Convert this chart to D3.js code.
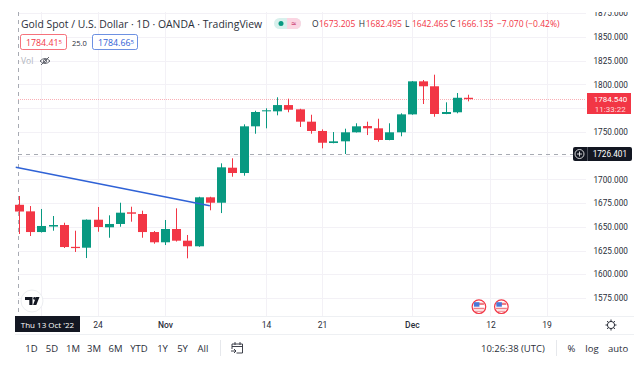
<!DOCTYPE html>
<html>
<head>
<meta charset="utf-8">
<script src="https://cdn.jsdelivr.net/npm/d3@7"></script>
<style>
  html, body { margin: 0; padding: 0; background: #fff; }
  text { font-family: "Open Sans", Roboto, sans-serif; }
  .num text, text.num { font-family: Roboto, sans-serif; }
</style>
</head>
<body>
<div id="chart"></div>
<script type="text/javascript">
  // 1D candles, 13 Oct 2022 (index 0) to 8 Dec 2022
  var opens = [1673.205,1666.3,1644.5,1650.3,1651.9,1628.9,1628,1657.5,1649.5,1653,1665.3,1663.5,1644.5,1633.7,1647.7,1635.4,1629.5,1681.1,1675.4,1712.3,1706.7,1755.9,1771.7,1771.7,1778.3,1773.8,1760.8,1751,1738.3,1740.1,1749.6,1756.2,1753.8,1741.5,1749.6,1768.5,1803.3,1798.1,1768.9,1770.7,1786];
  var highs = [1682.495,1671.9,1668.8,1661.4,1654.3,1645.9,1657.8,1670.9,1662.1,1675.4,1671.2,1667,1645.6,1657.2,1669.5,1641.4,1681.7,1681.7,1716.9,1722.2,1758,1772.3,1774.9,1786.5,1785,1774.4,1768.1,1752.7,1749.9,1753.4,1759.1,1760.8,1763.9,1759.1,1769.6,1803.6,1804.7,1810.3,1781.2,1791,1789.2];
  var lows = [1642.465,1640.3,1644,1645.9,1627.7,1623.5,1617.1,1644.8,1638.5,1650.1,1655.4,1638.5,1632.2,1630.8,1634.5,1616.8,1629,1667.4,1664.5,1702.8,1703.9,1748.1,1753.8,1767.5,1770.7,1755.2,1748.1,1732.7,1738,1726.7,1749.4,1746.7,1739.7,1741.2,1745.4,1768.1,1779.4,1766,1768.7,1769.6,1782.2];
  var closes = [1666.135,1644.5,1650.9,1651.9,1628.7,1627.6,1657.5,1649.8,1653,1664.9,1663.8,1644.5,1633.7,1647.7,1635.4,1629.5,1681.1,1675.4,1712.7,1706.7,1755.9,1771,1772.8,1778.3,1773.4,1760.8,1751,1738.6,1740.1,1749.6,1755.9,1753.8,1741.5,1749.6,1768.5,1803.3,1798.1,1768.9,1771,1786,1784.54];

  var priceTicks = [1875,1850,1825,1800,1750,1700,1675,1650,1625,1600,1575];
  var priceGrid = [1875,1850,1825,1800,1775,1750,1725,1700,1675,1650,1625,1600,1575];
  var timeTicks = [2,7,13,22,27,35,42,47];
  var timeLabels = ["","24","Nov","14","21","Dec","12","19"];

  var trendIndex = [-0.29,17];
  var trendPrice = [1712.7,1672.2];
  var lastPrice = 1784.54;
  var crossPrice = 1726.401;
  var crossIndex = 0;
  var eventIndex = [41,43];

  var ranges = ["1D","5D","1M","3M","6M","YTD","1Y","5Y","All"];
  var rangeCenters = [31.5,52,73,94,115.5,139,162.5,182.5,203];

  var UP = "#089981", DOWN = "#f23645", INK = "#2a2e39", GRID = "#f3f1f6";

  var width = 634, height = 368;
  var svg = d3.select("#chart").append("svg")
      .attr("width", width).attr("height", height)
      .style("display", "block");

  var x = d3.scaleLinear().domain([0,40]).range([19,468]);
  var y = d3.scaleLinear().domain([1875,1575]).range([13.3,298]);
  var plotLeft = 18, plotRight = 586, plotTop = 12, plotBottom = 316;
  var candles = d3.range(opens.length);
  var bodyW = 9;

  svg.append("clipPath").attr("id", "top-clip").append("rect")
      .attr("x", 0).attr("y", plotTop).attr("width", width).attr("height", height);

  // grid
  svg.append("g").selectAll("line").data(priceGrid).join("line")
      .attr("x1", plotLeft).attr("x2", plotRight)
      .attr("y1", function(d) { return Math.round(y(d)) + .5; })
      .attr("y2", function(d) { return Math.round(y(d)) + .5; })
      .attr("stroke", GRID);
  svg.append("g").selectAll("line").data(timeTicks).join("line")
      .attr("x1", function(d) { return Math.round(x(d)) + .5; })
      .attr("x2", function(d) { return Math.round(x(d)) + .5; })
      .attr("y1", plotTop).attr("y2", plotBottom)
      .attr("stroke", GRID);

  // last price and crosshair lines
  svg.append("line")
      .attr("x1", plotLeft).attr("x2", plotRight)
      .attr("y1", Math.round(y(lastPrice)) + .5).attr("y2", Math.round(y(lastPrice)) + .5)
      .attr("stroke", DOWN).attr("stroke-opacity", .4).attr("stroke-dasharray", "1 1");
  svg.append("line")
      .attr("x1", plotLeft).attr("x2", 573)
      .attr("y1", Math.round(y(crossPrice)) + .5).attr("y2", Math.round(y(crossPrice)) + .5)
      .attr("stroke", "#a8abb3").attr("stroke-dasharray", "4 4");
  svg.append("line")
      .attr("x1", Math.floor(x(crossIndex)) - .5).attr("x2", Math.floor(x(crossIndex)) - .5)
      .attr("y1", plotTop).attr("y2", plotBottom)
      .attr("stroke", "#a8abb3").attr("stroke-dasharray", "4 4");

  // candles
  var color = function(i) { return closes[i] >= opens[i] ? UP : DOWN; };
  svg.append("g").selectAll("line").data(candles).join("line")
      .attr("x1", function(i) { return Math.round(x(i)) + .5; })
      .attr("x2", function(i) { return Math.round(x(i)) + .5; })
      .attr("y1", function(i) { return y(highs[i]); })
      .attr("y2", function(i) { return y(lows[i]); })
      .attr("stroke", color);
  svg.append("g").selectAll("rect").data(candles).join("rect")
      .attr("x", function(i) { return Math.round(x(i)) + .5 - bodyW / 2; })
      .attr("width", bodyW)
      .attr("y", function(i) { return y(Math.max(opens[i], closes[i])); })
      .attr("height", function(i) { return Math.max(1, Math.abs(y(opens[i]) - y(closes[i]))); })
      .attr("fill", color);

  // trend line
  svg.append("path")
      .datum(d3.zip(trendIndex, trendPrice))
      .attr("fill", "none")
      .attr("stroke", "#2f62d6")
      .attr("stroke-width", 1.5)
      .attr("d", d3.line()
        .x(function(d) { return x(d[0]); })
        .y(function(d) { return y(d[1]); }));

  // price axis
  var yAxis = svg.append("g")
      .attr("class", "num")
      .attr("clip-path", "url(#top-clip)")
      .attr("transform", "translate(590,0)")
      .call(d3.axisRight(y).tickValues(priceTicks).tickFormat(d3.format(".3f")).tickSize(0).tickPadding(3.5));
  yAxis.select(".domain").remove();
  yAxis.selectAll("text").attr("font-size", 8.2).attr("fill", INK);

  // time axis
  svg.append("line").attr("x1", 15).attr("x2", 634).attr("y1", 316.5).attr("y2", 316.5).attr("stroke", "#eef0f3");
  svg.append("line").attr("x1", 15).attr("x2", 634).attr("y1", 334.5).attr("y2", 334.5).attr("stroke", "#eef0f3");
  var xAxis = svg.append("g")
      .attr("class", "num")
      .attr("transform", "translate(0,322)")
      .call(d3.axisBottom(x).tickValues(timeTicks)
        .tickFormat(function(d, i) { return timeLabels[i]; }).tickSize(0).tickPadding(0));
  xAxis.select(".domain").remove();
  xAxis.selectAll("text").attr("font-size", 8.5).attr("fill", INK)
      .attr("font-weight", function(d) { return d == 13 || d == 35 ? 500 : 400; });

  // crosshair date label
  svg.append("rect").attr("x", 15).attr("y", 316).attr("width", 65).attr("height", 16).attr("fill", "#131722");
  svg.append("text").attr("x", 47.5).attr("y", 328).attr("text-anchor", "middle")
      .attr("font-size", 8).attr("fill", "#fff").text("Thu 13 Oct '22");

  // last price label
  svg.append("rect").attr("x", 587).attr("y", 93).attr("width", 44).attr("height", 21).attr("fill", DOWN);
  svg.append("text").attr("class", "num").attr("x", 627.3).attr("y", 102.2).attr("text-anchor", "end")
      .attr("font-size", 8).attr("fill", "#fff").text(d3.format(".3f")(lastPrice));
  svg.append("text").attr("class", "num").attr("x", 625.7).attr("y", 111.8).attr("text-anchor", "end")
      .attr("font-size", 8).attr("fill", "#ffd9dd").text("11:33:22");

  // crosshair price label
  svg.append("rect").attr("x", 573).attr("y", 147).attr("width", 59).attr("height", 14).attr("rx", 2).attr("fill", "#131722");
  svg.append("line").attr("x1", 587.5).attr("x2", 587.5).attr("y1", 147).attr("y2", 161).attr("stroke", "#4a4e59");
  svg.append("circle").attr("cx", 579.5).attr("cy", 154).attr("r", 4.5).attr("fill", "none").attr("stroke", "#fff").attr("stroke-width", .8);
  svg.append("path").attr("d", "M577 154h5M579.5 151.5v5").attr("stroke", "#fff").attr("stroke-width", .8);
  svg.append("text").attr("class", "num").attr("x", 627).attr("y", 157).attr("text-anchor", "end")
      .attr("font-size", 8.2).attr("fill", "#fff").text(d3.format(".3f")(crossPrice));

  // header
  svg.append("text").attr("x", 21).attr("y", 27.5).attr("font-size", 10.4).attr("fill", INK)
      .text("Gold Spot / U.S. Dollar · 1D · OANDA · TradingView");
  svg.append("rect").attr("x", 274).attr("y", 18).attr("width", 27).attr("height", 11).attr("rx", 5.5).attr("fill", "#d8f0ec");
  svg.append("path").attr("d", "M287 18h8.5a5.5 5.5 0 0 1 0 11H287z").attr("fill", "#fbd5e2");
  svg.append("circle").attr("cx", 281).attr("cy", 23.5).attr("r", 2.5).attr("fill", UP);
  svg.append("text").attr("x", 293.5).attr("y", 26.5).attr("text-anchor", "middle").attr("font-size", 9).attr("fill", "#c2185b").text("≈");

  var ohlc = [["O",312,"1673.205"],["H",358.7,"1682.495"],["L",405,"1642.465"],["C",450,"1666.135"]];
  var legend = svg.append("g").attr("font-size", 8.5);
  ohlc.forEach(function(d) {
    legend.append("text").attr("x", d[1]).attr("y", 27).attr("fill", INK).text(d[0]);
    legend.append("text").attr("x", d[1] + 7).attr("y", 27).attr("fill", DOWN).text(d[2]);
  });
  legend.append("text").attr("x", 497).attr("y", 27).attr("fill", DOWN).text("−7.070 (−0.42%)");

  // buy and sell boxes
  svg.append("rect").attr("x", 20.5).attr("y", 34.5).attr("width", 46).attr("height", 15).attr("rx", 2).attr("fill", "#fff").attr("stroke", DOWN).attr("stroke-opacity", .7);
  svg.append("text").attr("x", 26).attr("y", 45.5).attr("font-size", 8.8).attr("fill", DOWN)
      .text("1784.41").append("tspan").attr("font-size", 6).attr("dy", -2).text("5");
  svg.append("text").attr("x", 72).attr("y", 45.5).attr("font-size", 7.5).attr("fill", INK).text("25.0");
  svg.append("rect").attr("x", 92.5).attr("y", 34.5).attr("width", 45).attr("height", 15).attr("rx", 2).attr("fill", "#fff").attr("stroke", "#2f62d6").attr("stroke-opacity", .7);
  svg.append("text").attr("x", 98).attr("y", 45.5).attr("font-size", 8.8).attr("fill", "#2f62d6")
      .text("1784.66").append("tspan").attr("font-size", 6).attr("dy", -2).text("5");

  // volume row
  svg.append("text").attr("x", 21).attr("y", 64).attr("font-size", 8.5).attr("fill", "#b2b5be").text("Vol");
  svg.append("path").attr("d", "M40 61q5-5 10 0q-5 5-10 0zM41 65l8-8").attr("fill", "none").attr("stroke", "#50535e").attr("stroke-width", .9);
  svg.append("circle").attr("cx", 45).attr("cy", 61).attr("r", 1.6).attr("fill", "none").attr("stroke", "#50535e").attr("stroke-width", .8);

  // logo
  svg.append("circle").attr("cx", 32).attr("cy", 301).attr("r", 11).attr("fill", "#fff").attr("stroke", "#eceef1");
  svg.append("path").attr("d", "M25 297h7.5v8h-3.2v-5h-4.3zM36 297h3.5l-3.2 8h-3.2z").attr("fill", "#131722");
  svg.append("circle").attr("cx", 34.6).attr("cy", 298.4).attr("r", 1.4).attr("fill", "#131722");

  // event flags
  eventIndex.forEach(function(i) {
    var cx = x(i) - 0.3, cy = 306.7;
    var f = svg.append("g");
    f.append("circle").attr("cx", cx).attr("cy", cy).attr("r", 6.8).attr("fill", "#fff").attr("stroke", DOWN).attr("stroke-width", 1.2);
    f.append("path").attr("d", "M" + (cx - 5) + " " + (cy - 4) + "h10v2.4h-10zM" + (cx - 5.5) + " " + (cy + 1) + "h11v1.5h-11zM" + (cx - 4) + " " + (cy + 4) + "h8v1h-8z").attr("fill", "#ef7f86");
    f.append("rect").attr("x", cx - 5).attr("y", cy - 4.5).attr("width", 5.5).attr("height", 4.5).attr("fill", "#4a78d8");
  });

  // gear
  svg.append("circle").attr("cx", 611).attr("cy", 325).attr("r", 3.6).attr("fill", "none").attr("stroke", INK).attr("stroke-width", 1);
  svg.append("path").attr("d", "M611 319.5v2M611 328.5v2M605.5 325h2M614.5 325h2M607.1 321.1l1.4 1.4M613.5 327.5l1.4 1.4M607.1 328.9l1.4-1.4M613.5 322.5l1.4-1.4").attr("stroke", INK);

  // bottom toolbar
  svg.append("g").selectAll("text").data(ranges).join("text")
      .attr("x", function(d, i) { return rangeCenters[i]; })
      .attr("y", 351.5).attr("text-anchor", "middle")
      .attr("font-size", 9.5).attr("fill", INK)
      .text(function(d) { return d; });
  svg.append("line").attr("x1", 220.5).attr("x2", 220.5).attr("y1", 340).attr("y2", 356).attr("stroke", "#e6e8ec");
  svg.append("path").attr("d", "M232 349v-5h10.5v9h-6M232 346.5h10.5M235 342v3M240 342v3M231 351h5M234 349l2 2l-2 2").attr("fill", "none").attr("stroke", INK).attr("stroke-width", .9);
  svg.append("text").attr("x", 481).attr("y", 351.5).attr("font-size", 9.5).attr("fill", INK).text("10:26:38 (UTC)");
  svg.append("line").attr("x1", 556.5).attr("x2", 556.5).attr("y1", 340).attr("y2", 356).attr("stroke", "#e6e8ec");
  svg.append("text").attr("x", 571.5).attr("y", 351.5).attr("text-anchor", "middle").attr("font-size", 9.5).attr("fill", INK).text("%");
  svg.append("text").attr("x", 592).attr("y", 351.5).attr("text-anchor", "middle").attr("font-size", 9.5).attr("fill", INK).text("log");
  svg.append("text").attr("x", 618).attr("y", 351.5).attr("text-anchor", "middle").attr("font-size", 9.5).attr("fill", INK).text("auto");
</script>
</body>
</html>
